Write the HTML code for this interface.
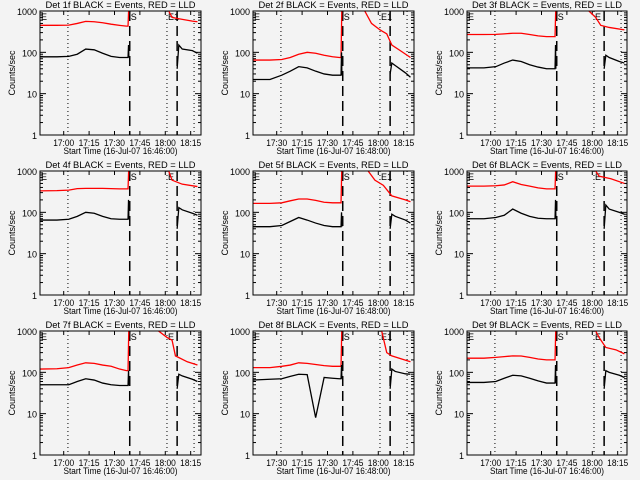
<!DOCTYPE html>
<html><head><meta charset="utf-8"><style>
html,body{margin:0;padding:0;background:#f3f3f3}
svg{display:block}
text{font-family:"Liberation Sans",sans-serif;font-size:9px;fill:#000}
</style></head><body>
<svg id="chart" width="640" height="480"></svg>
<script>
// shared sample times (minutes after 16:46)
const preTimes = [0,10,17,22,27,32,37,42,47,51];
const tickLabels = ["17:00","17:15","17:30","17:45","18:00","18:15"];
const tickMinutes = [14,29,44,59,74,89];
const decadeLabels = ["1","10","100","1000"];
const panelTitles = ["Det 1f","Det 2f","Det 3f","Det 4f","Det 5f","Det 6f","Det 7f","Det 8f","Det 9f"];
const redPre = [
 [450,450,455,500,560,550,520,480,450,430],
 [65,65,67,75,90,100,95,85,78,75],
 [270,270,272,280,290,290,270,250,240,240],
 [330,335,345,375,380,380,380,375,370,370],
 [165,165,170,190,210,210,195,175,170,170],
 [430,430,440,460,550,470,430,390,370,370],
 [120,122,130,150,170,165,150,140,120,110],
 [130,130,140,150,170,165,155,145,140,140],
 [220,220,230,240,250,248,230,210,200,200]];
const blackPre = [
 [78,78,80,90,120,115,95,80,75,75],
 [22,22,28,35,45,42,35,30,28,28],
 [42,42,45,55,65,60,50,44,40,40],
 [65,65,68,80,100,95,80,70,68,68],
 [45,45,48,60,75,65,55,48,45,45],
 [70,70,75,85,120,95,80,72,70,70],
 [50,50,50,60,70,65,55,50,48,48],
 [65,68,70,80,90,88,8,75,72,70],
 [57,57,60,72,85,82,72,62,55,55]];
const spikeRed = [1500,1500,1500,1500,1500,1500,1500,1500,1500];
const spikeBlack = [150,100,150,200,100,200,110,150,150];
const redPostT = [
 [76,78,82,90,93],[66,70,75,79,82,87,93],[72,76,79,84,93],[76,78,84,93],
 [68,72,77,82,90,93],[76,78,85,93],[70,75,78,80,87,93],[76,79,82,93],[76,78,82,88,93]];
const redPostV = [
 [1000,700,650,570,550],[1000,500,350,280,150,110,75],[1000,700,450,400,350],[1000,600,480,420],
 [1000,600,450,250,200,180],[1000,750,650,500],[1000,700,600,250,180,150],[1000,300,250,180],[1000,700,400,350,280]];
const blackPostT = [81,82,84,90,93];
const blackPostV = [
 [40,150,120,110,95],[30,55,48,32,25],[40,85,75,60,55],[40,130,115,95,85],
 [40,90,80,65,55],[40,150,120,100,90],[40,90,82,68,60],[40,120,105,92,90],[40,110,100,85,75]];
const eventMinutes = {dot:[16.5,75,91], dash:[53,81]};

const NS="http://www.w3.org/2000/svg";
const svg=document.getElementById('chart');
function mk(tag,attrs,parent){const e=document.createElementNS(NS,tag);for(const k in attrs)e.setAttribute(k,attrs[k]);(parent||svg).appendChild(e);return e;}
const lefts=[40,253,467], widths=[161,161,160], tops=[11,171,331], H=124;
const startLabels=["16:46:00","16:48:00","16:46:00"];
const PXM=1.693;

for(let p=0;p<9;p++){
  const c=p%3,r=Math.floor(p/3);
  const L=lefts[c],W=widths[c],T=tops[r],B=T+H;
  const xs=m=>L+m*PXM;
  const ys=v=>B-Math.log10(v)/3*H;
  const g=mk('g',{});
  
  
  const cp=mk('clipPath',{id:'cp'+p},g);mk('rect',{x:L,y:T,width:W,height:H},cp);
  const t=mk('text',{x:L+W/2,y:T-3,'text-anchor':'middle',textLength:'150',lengthAdjust:'spacingAndGlyphs','font-size':'10'},g);
  t.textContent=panelTitles[p]+" BLACK = Events, RED = LLD";
  
  
  const yl=mk('text',{x:0,y:0,'text-anchor':'middle',transform:`translate(${L-25},${T+62}) rotate(-90)`,'font-size':'8'},g);
  yl.textContent="Counts/sec";
  
  
  const xl=mk('text',{x:L+W/2,y:B+19,'text-anchor':'middle',textLength:'114',lengthAdjust:'spacingAndGlyphs'},g);
  xl.textContent="Start Time (16-Jul-07 "+startLabels[c]+")";
  
  
  // y ticks
  for(let d=0;d<=3;d++){
    const y=ys(Math.pow(10,d));
    const tl=mk('text',{x:L-3,y:y+4,'text-anchor':'end'},g);tl.textContent=decadeLabels[d];
    
    
    mk('line',{x1:L,x2:L+6,y1:y,y2:y,stroke:'#000'},g);
    mk('line',{x1:L+W-6,x2:L+W,y1:y,y2:y,stroke:'#000'},g);
    if(d<3)for(let k=2;k<10;k++){const yy=ys(k*Math.pow(10,d));
      mk('line',{x1:L,x2:L+3,y1:yy,y2:yy,stroke:'#000'},g);
      mk('line',{x1:L+W-3,x2:L+W,y1:yy,y2:yy,stroke:'#000'},g);}
  }
  // x ticks
  tickMinutes.forEach((m,i)=>{const x=xs(m);
    mk('line',{x1:x,x2:x,y1:B,y2:B-4,stroke:'#000'},g);
    mk('line',{x1:x,x2:x,y1:T,y2:T+4,stroke:'#000'},g);
    const tl=mk('text',{x:x,y:B+11,'text-anchor':'middle',textLength:'21',lengthAdjust:'spacingAndGlyphs'},g);
    tl.textContent=(c===1&&i===0)?"17:30":tickLabels[i];
    
    
  });
  // event lines
  eventMinutes.dot.forEach(m=>{const l=mk('line',{x1:xs(m),x2:xs(m),y1:T,y2:B,stroke:'#000','stroke-dasharray':'1,3'},g);
    });
  eventMinutes.dash.forEach(m=>{const l=mk('line',{x1:xs(m),x2:xs(m),y1:T,y2:B,stroke:'#000','stroke-width':'1.5','stroke-dasharray':'10,5'},g);
    });
  const e1=mk('text',{x:L+1,y:T+9,'font-size':'11'},g);e1.textContent="E";
  const s1=mk('text',{x:xs(53)+1,y:T+9,'font-size':'11'},g);s1.textContent="S";
  const e2=mk('text',{x:xs(75)+1,y:T+9,'font-size':'11'},g);e2.textContent=(c===2||p===3||p===6)?"E":"E1";
  // series
  const redPts=preTimes.map((m,i)=>[xs(m),ys(redPre[p][i])]);
  redPts.push([xs(52),ys(redPre[p][9])],[xs(52.5),ys(spikeRed[p])]);
  const blkPts=preTimes.map((m,i)=>[xs(m),ys(blackPre[p][i])]);
  blkPts.push([xs(52),ys(blackPre[p][9])],[xs(52.3),ys(spikeBlack[p])],[xs(52.5),ys(blackPre[p][9])]);
  const rp=redPostT[p].map((m,i)=>[xs(m),ys(redPostV[p][i])]);
  const bp=blackPostT.map((m,i)=>[xs(m),ys(blackPostV[p][i])]);
  const draw=(pts,col,name)=>{const pl=mk('polyline',{points:pts.map(a=>a.join(',')).join(' '),fill:'none',stroke:col,'stroke-width':'1.3','clip-path':`url(#cp${p})`},g);
    };
  draw(redPts,'#ff0000','lld-series-pre');draw(blkPts,'#000','events-series-pre');
  draw(rp,'#ff0000','lld-series-post');draw(bp,'#000','events-series-post');
  const box=mk('rect',{x:L,y:T,width:W,height:H,fill:'none',stroke:'#000'},g);
  
}
</script>
</body></html>
